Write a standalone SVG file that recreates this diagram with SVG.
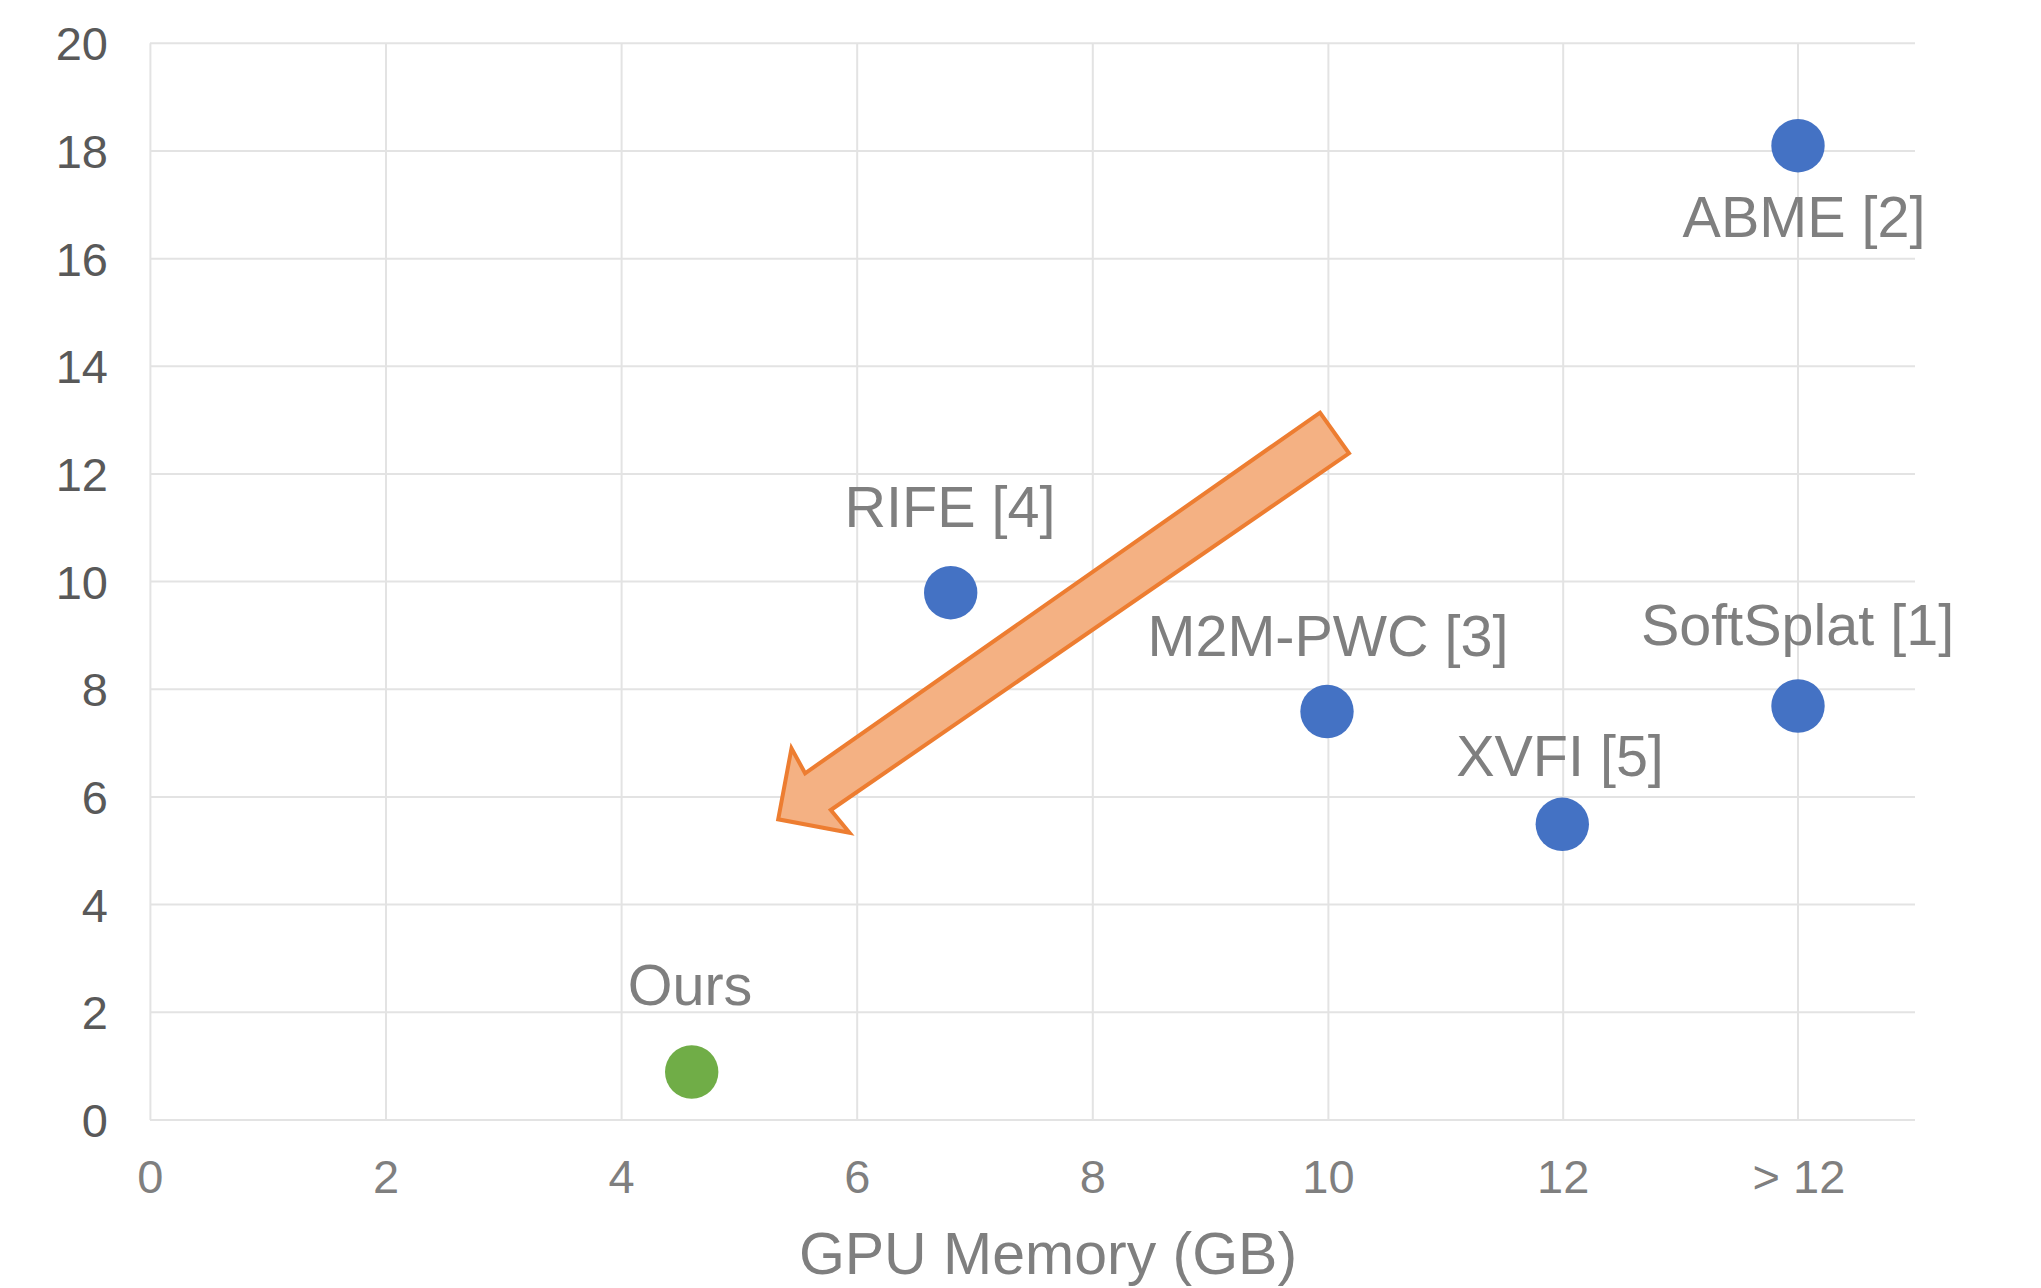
<svg xmlns="http://www.w3.org/2000/svg" width="2041" height="1288" viewBox="0 0 2041 1288">
<style>
.grid{stroke:#E3E3E3;stroke-width:2;fill:none}
.ytick{font-family:"Liberation Sans",Arial,sans-serif;font-size:47px;fill:#595959;text-anchor:end}
.xtick{font-family:"Liberation Sans",Arial,sans-serif;font-size:47px;fill:#7F7F7F;text-anchor:middle}
.title{font-family:"Liberation Sans",Arial,sans-serif;font-size:59px;fill:#7F7F7F;text-anchor:middle}
.lbl{font-family:"Liberation Sans",Arial,sans-serif;font-size:57.5px;fill:#7F7F7F;text-anchor:middle}
.blue{fill:#4472C4}
.green{fill:#70AD47}
</style>
<rect width="2041" height="1288" fill="#FFFFFF"/>
<g id="grid">
<path class="grid" d="M150,43.3H1915M150,151H1915M150,258.7H1915M150,366.3H1915M150,474H1915M150,581.6H1915M150,689.3H1915M150,797H1915M150,904.6H1915M150,1012.3H1915M150,1120H1915"/>
<path class="grid" d="M150.4,43.3V1120M386,43.3V1120M621.6,43.3V1120M857.2,43.3V1120M1092.8,43.3V1120M1328.4,43.3V1120M1563.2,43.3V1120M1798,43.3V1120"/>
</g>
<g id="y-axis-labels">
<text class="ytick" x="108" y="60">20</text>
<text class="ytick" x="108" y="168">18</text>
<text class="ytick" x="108" y="275.7">16</text>
<text class="ytick" x="108" y="383.3">14</text>
<text class="ytick" x="108" y="491">12</text>
<text class="ytick" x="108" y="598.6">10</text>
<text class="ytick" x="108" y="706.3">8</text>
<text class="ytick" x="108" y="814">6</text>
<text class="ytick" x="108" y="921.6">4</text>
<text class="ytick" x="108" y="1029.3">2</text>
<text class="ytick" x="108" y="1137">0</text>
</g>
<g id="x-axis-labels">
<text class="xtick" x="150.4" y="1193">0</text>
<text class="xtick" x="386" y="1193">2</text>
<text class="xtick" x="621.6" y="1193">4</text>
<text class="xtick" x="857.2" y="1193">6</text>
<text class="xtick" x="1092.8" y="1193">8</text>
<text class="xtick" x="1328.4" y="1193">10</text>
<text class="xtick" x="1563.2" y="1193">12</text>
<text class="xtick" x="1799" y="1193">&gt; 12</text>
<text class="title" x="1048" y="1274">GPU Memory (GB)</text>
</g>
<g id="connectors">
<polygon points="1320,412.7 1349,453.3 830.8,810 849.5,832.7 778.2,819.3 791.5,748.3 805.1,773.3" fill="#F4B183" stroke="#ED7D31" stroke-width="4" stroke-linejoin="miter"/>
</g>
<g id="node-abme">
<circle class="blue" cx="1798" cy="145.7" r="26.7"/>
<text class="lbl" x="1804" y="237">ABME [2]</text>
</g>
<g id="node-rife">
<circle class="blue" cx="950.7" cy="592.7" r="26.7"/>
<text class="lbl" x="950" y="527">RIFE [4]</text>
</g>
<g id="node-m2m">
<circle class="blue" cx="1327" cy="711.5" r="26.7"/>
<text class="lbl" x="1328" y="656">M2M-PWC [3]</text>
</g>
<g id="node-softsplat">
<circle class="blue" cx="1798" cy="706" r="26.7"/>
<text class="lbl" x="1797.5" y="645">SoftSplat [1]</text>
</g>
<g id="node-xvfi">
<circle class="blue" cx="1562.3" cy="824.3" r="26.7"/>
<text class="lbl" x="1560" y="776">XVFI [5]</text>
</g>
<g id="node-ours">
<circle class="green" cx="691.7" cy="1072" r="26.7"/>
<text class="lbl" x="690" y="1005">Ours</text>
</g>
</svg>
